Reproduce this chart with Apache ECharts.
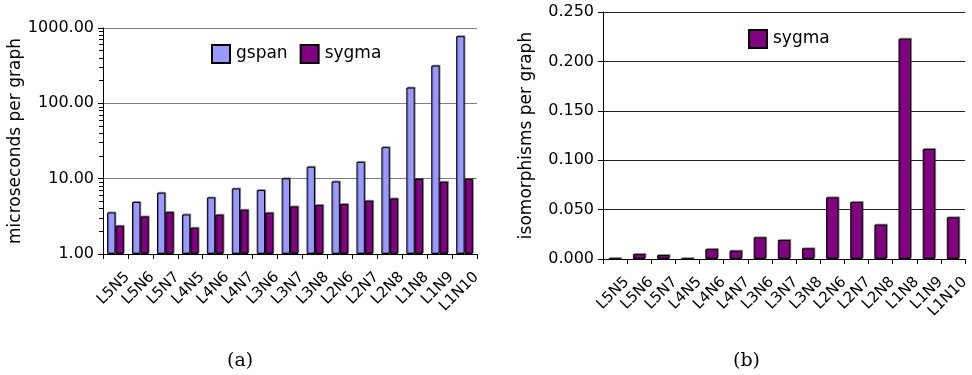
<!DOCTYPE html>
<html>
<head>
<meta charset="utf-8">
<script src="https://cdn.jsdelivr.net/npm/echarts@6/dist/echarts.min.js"></script>
<style>
  html, body { margin: 0; padding: 0; background: #fff; }
  #chart { width: 972px; height: 375px; }
</style>
</head>
<body>
<div id="chart"></div>
<script>
// Graph classes (L = labels, N = nodes)
const categories = ['L5N5', 'L5N6', 'L5N7', 'L4N5', 'L4N6', 'L4N7', 'L3N6', 'L3N7',
                    'L3N8', 'L2N6', 'L2N7', 'L2N8', 'L1N8', 'L1N9', 'L1N10'];

// (a) running time, microseconds per graph
const gspanMicros = [3.56, 4.9, 6.5, 3.35, 5.63, 7.41, 7.06, 10.1, 14.4, 9.18, 16.7, 26.2, 162, 317, 778];
const sygmaMicros = [2.37, 3.15, 3.6, 2.23, 3.32, 3.87, 3.53, 4.28, 4.47, 4.6, 5.09, 5.46, 9.9, 9.1, 9.9];

// (b) isomorphism tests, per graph
const sygmaIsomorphisms = [0.0003, 0.005, 0.004, 0.0002, 0.0101, 0.0084, 0.0219, 0.0192,
                           0.0108, 0.0624, 0.0577, 0.0348, 0.223, 0.1113, 0.0422];

// y-axis ticks
const leftTicks = [1, 10, 100, 1000];
const rightTicks = [0, 0.05, 0.1, 0.15, 0.2, 0.25];

const FONT = 'DejaVu Sans';
const GSPAN = '#9999ff';
const SYGMA = '#800080';

const barStyle = (color) => ({
  color: color,
  borderColor: '#000',
  borderWidth: 1,
  shadowColor: 'rgba(0,0,0,0.35)',
  shadowOffsetX: 1,
  shadowOffsetY: -1,
  shadowBlur: 0
});

const xAxisBase = (gridIndex) => ({
  type: 'category',
  gridIndex: gridIndex,
  data: categories,
  boundaryGap: true,
  axisLine: { lineStyle: { color: '#000', width: 1 } },
  axisTick: { show: true, length: 5, lineStyle: { color: '#000' } },
  axisLabel: {
    rotate: 45, fontFamily: FONT, fontSize: 15, color: '#000', margin: 9, interval: 0,
    verticalAlign: 'top', padding: [9, 0, 0, 0]
  }
});

const legendText = { fontFamily: FONT, fontSize: 17, color: '#000', padding: [0, 0, 0, 1] };

const chart = echarts.init(document.getElementById('chart'), null, { renderer: 'canvas' });

chart.setOption({
  animation: false,
  backgroundColor: '#fff',
  grid: [
    { left: 103, right: 495, top: 28, bottom: 121 },
    { left: 603, right: 2, top: 12, bottom: 116 }
  ],
  legend: [
    {
      data: ['gspan', 'sygma'],
      left: 211, top: 44, padding: 0, icon: 'rect',
      itemWidth: 18, itemHeight: 18, itemGap: 12,
      textStyle: legendText
    },
    {
      data: ['sygma (b)'],
      left: 748, top: 29, padding: 0, icon: 'rect',
      itemWidth: 18, itemHeight: 18,
      formatter: () => 'sygma',
      textStyle: legendText
    }
  ],
  xAxis: [xAxisBase(0), xAxisBase(1)],
  yAxis: [
    {
      type: 'log',
      gridIndex: 0,
      logBase: 10,
      min: leftTicks[0],
      max: leftTicks[leftTicks.length - 1],
      name: 'microseconds per graph',
      nameLocation: 'middle',
      nameGap: 76,
      nameTextStyle: { fontFamily: FONT, fontSize: 17, color: '#000' },
      axisLine: { show: true, lineStyle: { color: '#000' } },
      axisTick: { show: true, length: 5, lineStyle: { color: '#000' } },
      minorTick: { show: true, splitNumber: 9, length: 4, lineStyle: { color: '#000' } },
      axisLabel: { fontFamily: FONT, fontSize: 16, color: '#000', margin: 9,
                   formatter: (v) => Number(v).toFixed(2) },
      splitLine: { show: true, lineStyle: { color: '#808080', width: 1 } }
    },
    {
      type: 'value',
      gridIndex: 1,
      min: rightTicks[0],
      max: rightTicks[rightTicks.length - 1],
      interval: 0.05,
      name: 'isomorphisms per graph',
      nameLocation: 'middle',
      nameGap: 68,
      nameTextStyle: { fontFamily: FONT, fontSize: 17, color: '#000' },
      axisLine: { show: true, lineStyle: { color: '#000' } },
      axisTick: { show: true, length: 5, lineStyle: { color: '#000' } },
      axisLabel: { fontFamily: FONT, fontSize: 16, color: '#000', margin: 9,
                   formatter: (v) => Number(v).toFixed(3) },
      splitLine: { show: true, lineStyle: { color: '#222', width: 1 } }
    }
  ],
  series: [
    {
      name: 'gspan', type: 'bar', xAxisIndex: 0, yAxisIndex: 0,
      data: gspanMicros, barGap: '0%', barCategoryGap: '33%',
      itemStyle: barStyle(GSPAN)
    },
    {
      name: 'sygma', type: 'bar', xAxisIndex: 0, yAxisIndex: 0,
      data: sygmaMicros, barGap: '0%', barCategoryGap: '33%',
      itemStyle: barStyle(SYGMA)
    },
    {
      name: 'sygma (b)', type: 'bar', xAxisIndex: 1, yAxisIndex: 1,
      data: sygmaIsomorphisms, barCategoryGap: '48%',
      itemStyle: barStyle(SYGMA)
    }
  ],
  graphic: [
    { type: 'text', left: 227, top: 352,
      style: { text: '(a)', font: '19px "DejaVu Serif"', fill: '#000' } },
    { type: 'text', left: 733, top: 352,
      style: { text: '(b)', font: '19px "DejaVu Serif"', fill: '#000' } }
  ]
});
</script>
</body>
</html>
